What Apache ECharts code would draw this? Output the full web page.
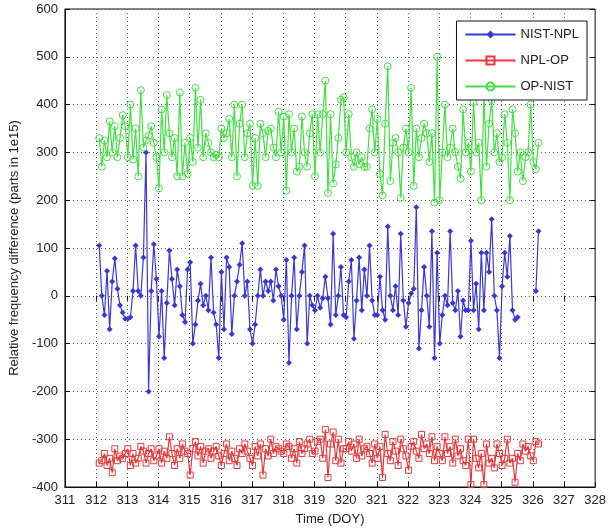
<!DOCTYPE html>
<html>
<head>
<meta charset="utf-8">
<title>Relative frequency difference</title>
<script src="https://cdn.jsdelivr.net/npm/echarts@6/dist/echarts.min.js"></script>
<style>
  html, body { margin: 0; padding: 0; background: #fff; }
  #chart { width: 609px; height: 531px; }
</style>
</head>
<body>
<div id="chart"></div>
<script>
// sample times: every 2 hours from DOY 312.1
const startDay = 312.1
const stepDay = 1 / 12

const xTicks = [311, 312, 313, 314, 315, 316, 317, 318, 319, 320, 321, 322, 323, 324, 325, 326, 327, 328]
const yTicks = [-400, -300, -200, -100, 0, 100, 200, 300, 400, 500, 600]

// NIST-NPL, one row per day
const nistNpl = [
  105, 0, -40, 52, -70, 30, 78, 15, -20, -35, -48,
  -48, -45, 10, 105, 10, 0, 80, 300, -200, 10, 108, 35,
  -85, 10, -130, -15, 95, 35, -20, 55, 20, -40, -55, 55,
  70, -100, -60, -10, 25, -20, 0, -30, 80, -35, -60, -130,
  50, -70, 80, 60, -80, 0, 30, 65, 110, 0, 30, -70,
  -100, -60, 0, 55, 0, 30, 10, 30, -10, 55, 20, 0,
  -50, 75, -140, 0, 80, -70, 0, 50, 105, -100, 0, -20,
  -30, 0, -25, -5, 40, -5, -60, 130, -40, 0, 60, -40,
  -45, 30, 75, -90, -10, 80, -30, 55, 0, 105, -10, -40,
  -40, 40, -30, -50, 145, 0, -30, 20, -40, 130, -10, -65,
  -15, 5, 15, 185, -110, -30, 60, 0, -65, 135, -130, 90,
  -100, -40, 0, -20, 135, -15, -30, 10, -85, -10, -30, -30,
  115, -30, 25, -70, 90, -30, 90, 50, 160, 0, -30, -130,
  20, 90, 40, 125, -30, -50, -45, null, null, null, null, null,
  null, 10, 135
]

// NPL-OP
const nplOp = [
  -350, -345, -330, -355, -340, -370, -320, -345, -335, -340, -330,
  -320, -355, -330, -350, -340, -315, -325, -350, -330, -320, -345, -335,
  -320, -350, -325, -340, -295, -330, -355, -320, -340, -310, -325, -330,
  -375, -320, -305, -335, -315, -350, -325, -320, -340, -325, -315, -335,
  -355, -330, -310, -345, -325, -340, -355, -320, -330, -310, -325, -340,
  -355, -315, -335, -310, -375, -320, -335, -300, -330, -315, -320, -325,
  -330, -310, -315, -340, -320, -350, -305, -330, -320, -310, -300, -330,
  -325, -305, -300, -340, -280, -380, -310, -285, -345, -300, -350, -320,
  -320, -305, -325, -310, -340, -300, -335, -320, -315, -330, -350, -310,
  -340, -315, -380, -290, -330, -345, -305, -325, -355, -300, -320, -335,
  -365, -315, -305, -325, -340, -290, -320, -310, -330, -295, -345, -315,
  -330, -345, -295, -330, -315, -350, -300, -335, -320, -345, -355, -300,
  -395, -300, -340, -360, -330, -395, -310, -350, -340, -360, -310, -330,
  -355, -340, -300, -350, -340, -390, -330, -345, -310, -325, -315, -335,
  -345, -305, -310
]

// OP-NIST
const opNist = [
  330, 270, 325, 290, 365, 300, 355, 290, 330, 378, 355,
  290, 400, 285, 350, 250, 430, 310, 325, 335, 355, 320, 290,
  225, 390, 300, 420, 340, 290, 330, 250, 425, 250, 320, 255,
  330, 280, 435, 310, 410, 290, 340, 320, 300, 290, 295, 290,
  350, 330, 340, 370, 290, 400, 250, 360, 400, 290, 340, 360,
  230, 330, 230, 360, 340, 290, 345, 350, 310, 290, 385, 300,
  375, 220, 380, 300, 350, 260, 270, 375, 300, 270, 340, 380,
  250, 380, 300, 380, 450, 215, 380, 235, 275, 330, 410, 415,
  300, 380, 290, 270, 300, 275, 290, 270, 270, 350, 390, 300,
  370, 255, 210, 360, 480, 240, 320, 330, 300, 205, 310, 350,
  300, 435, 230, 350, 290, 330, 360, 340, 280, 340, 195, 500,
  200, 300, 400, 290, 310, 350, 300, 270, 245, 390, 300, 320,
  260, 405, 300, 320, 200, 420, 270, 360, 410, 300, 340, 280,
  290, 380, 320, 200, 390, 340, 260, 300, 240, 290, 300, 400,
  280, 265, 320
]

const blue = '#3838d6'
const red = '#e8383c'
const green = '#42df42'

function pairs(values) {
  return values.map((v, i) => [startDay + i * stepDay, v])
}

const chart = echarts.init(document.getElementById('chart'))

const axisFont = { fontFamily: 'Liberation Sans, Arial, sans-serif', fontSize: 13, color: '#222' }
const gridLine = { show: true, lineStyle: { color: '#555', type: [1, 3], width: 1 } }

chart.setOption({
  backgroundColor: '#fff',
  animation: false,
  grid: {
    left: 64,
    right: 11,
    top: 9,
    bottom: 44,
    show: true,
    borderColor: '#111',
    borderWidth: 1
  },
  legend: {
    orient: 'vertical',
    right: 22,
    top: 21,
    padding: [7, 8, 7, 8],
    itemWidth: 50,
    itemHeight: 10,
    itemGap: 13,
    backgroundColor: '#fff',
    borderColor: '#111',
    borderWidth: 1,
    textStyle: { fontFamily: 'Liberation Sans, Arial, sans-serif', fontSize: 13, color: '#222' },
    data: ['NIST-NPL', 'NPL-OP', 'OP-NIST']
  },
  xAxis: [
    {
      type: 'value',
      min: xTicks[0],
      max: xTicks[xTicks.length - 1],
      interval: 1,
      name: 'Time (DOY)',
      nameLocation: 'middle',
      nameGap: 26,
      nameTextStyle: axisFont,
      axisLine: { onZero: false, lineStyle: { color: '#111' } },
      axisTick: { inside: true, length: 5, lineStyle: { color: '#111' } },
      axisLabel: Object.assign({ margin: 7 }, axisFont),
      splitLine: gridLine
    },
    {
      type: 'value',
      position: 'top',
      min: xTicks[0],
      max: xTicks[xTicks.length - 1],
      interval: 1,
      axisLine: { show: false },
      axisTick: { inside: true, length: 5, lineStyle: { color: '#111' } },
      axisLabel: { show: false },
      splitLine: { show: false }
    }
  ],
  yAxis: [
    {
      type: 'value',
      min: yTicks[0],
      max: yTicks[yTicks.length - 1],
      interval: 100,
      name: 'Relative frequency difference (parts in 1e15)',
      nameLocation: 'middle',
      nameGap: 34,
      nameTextStyle: axisFont,
      axisLine: { show: true, onZero: false, lineStyle: { color: '#111' } },
      axisTick: { inside: true, length: 5, lineStyle: { color: '#111' } },
      axisLabel: Object.assign({ margin: 7 }, axisFont),
      splitLine: gridLine
    },
    {
      type: 'value',
      position: 'right',
      min: yTicks[0],
      max: yTicks[yTicks.length - 1],
      interval: 100,
      axisLine: { show: false },
      axisTick: { show: true, inside: true, length: 5, lineStyle: { color: '#111' } },
      axisLabel: { show: false },
      splitLine: { show: false }
    }
  ],
  series: [
    {
      name: 'NIST-NPL',
      type: 'line',
      data: pairs(nistNpl),
      symbol: 'diamond',
      symbolSize: 6,
      showAllSymbol: true,
      connectNulls: false,
      lineStyle: { color: blue, width: 1.2 },
      itemStyle: { color: blue }
    },
    {
      name: 'NPL-OP',
      type: 'line',
      data: pairs(nplOp),
      symbol: 'rect',
      symbolSize: 6,
      showAllSymbol: true,
      lineStyle: { color: red, width: 1.2 },
      itemStyle: { color: 'rgba(255,255,255,0)', borderColor: red, borderWidth: 1 }
    },
    {
      name: 'OP-NIST',
      type: 'line',
      data: pairs(opNist),
      symbol: 'circle',
      symbolSize: 7,
      showAllSymbol: true,
      lineStyle: { color: green, width: 1.2 },
      itemStyle: { color: 'rgba(255,255,255,0)', borderColor: green, borderWidth: 1 }
    }
  ]
})
</script>
</body>
</html>
